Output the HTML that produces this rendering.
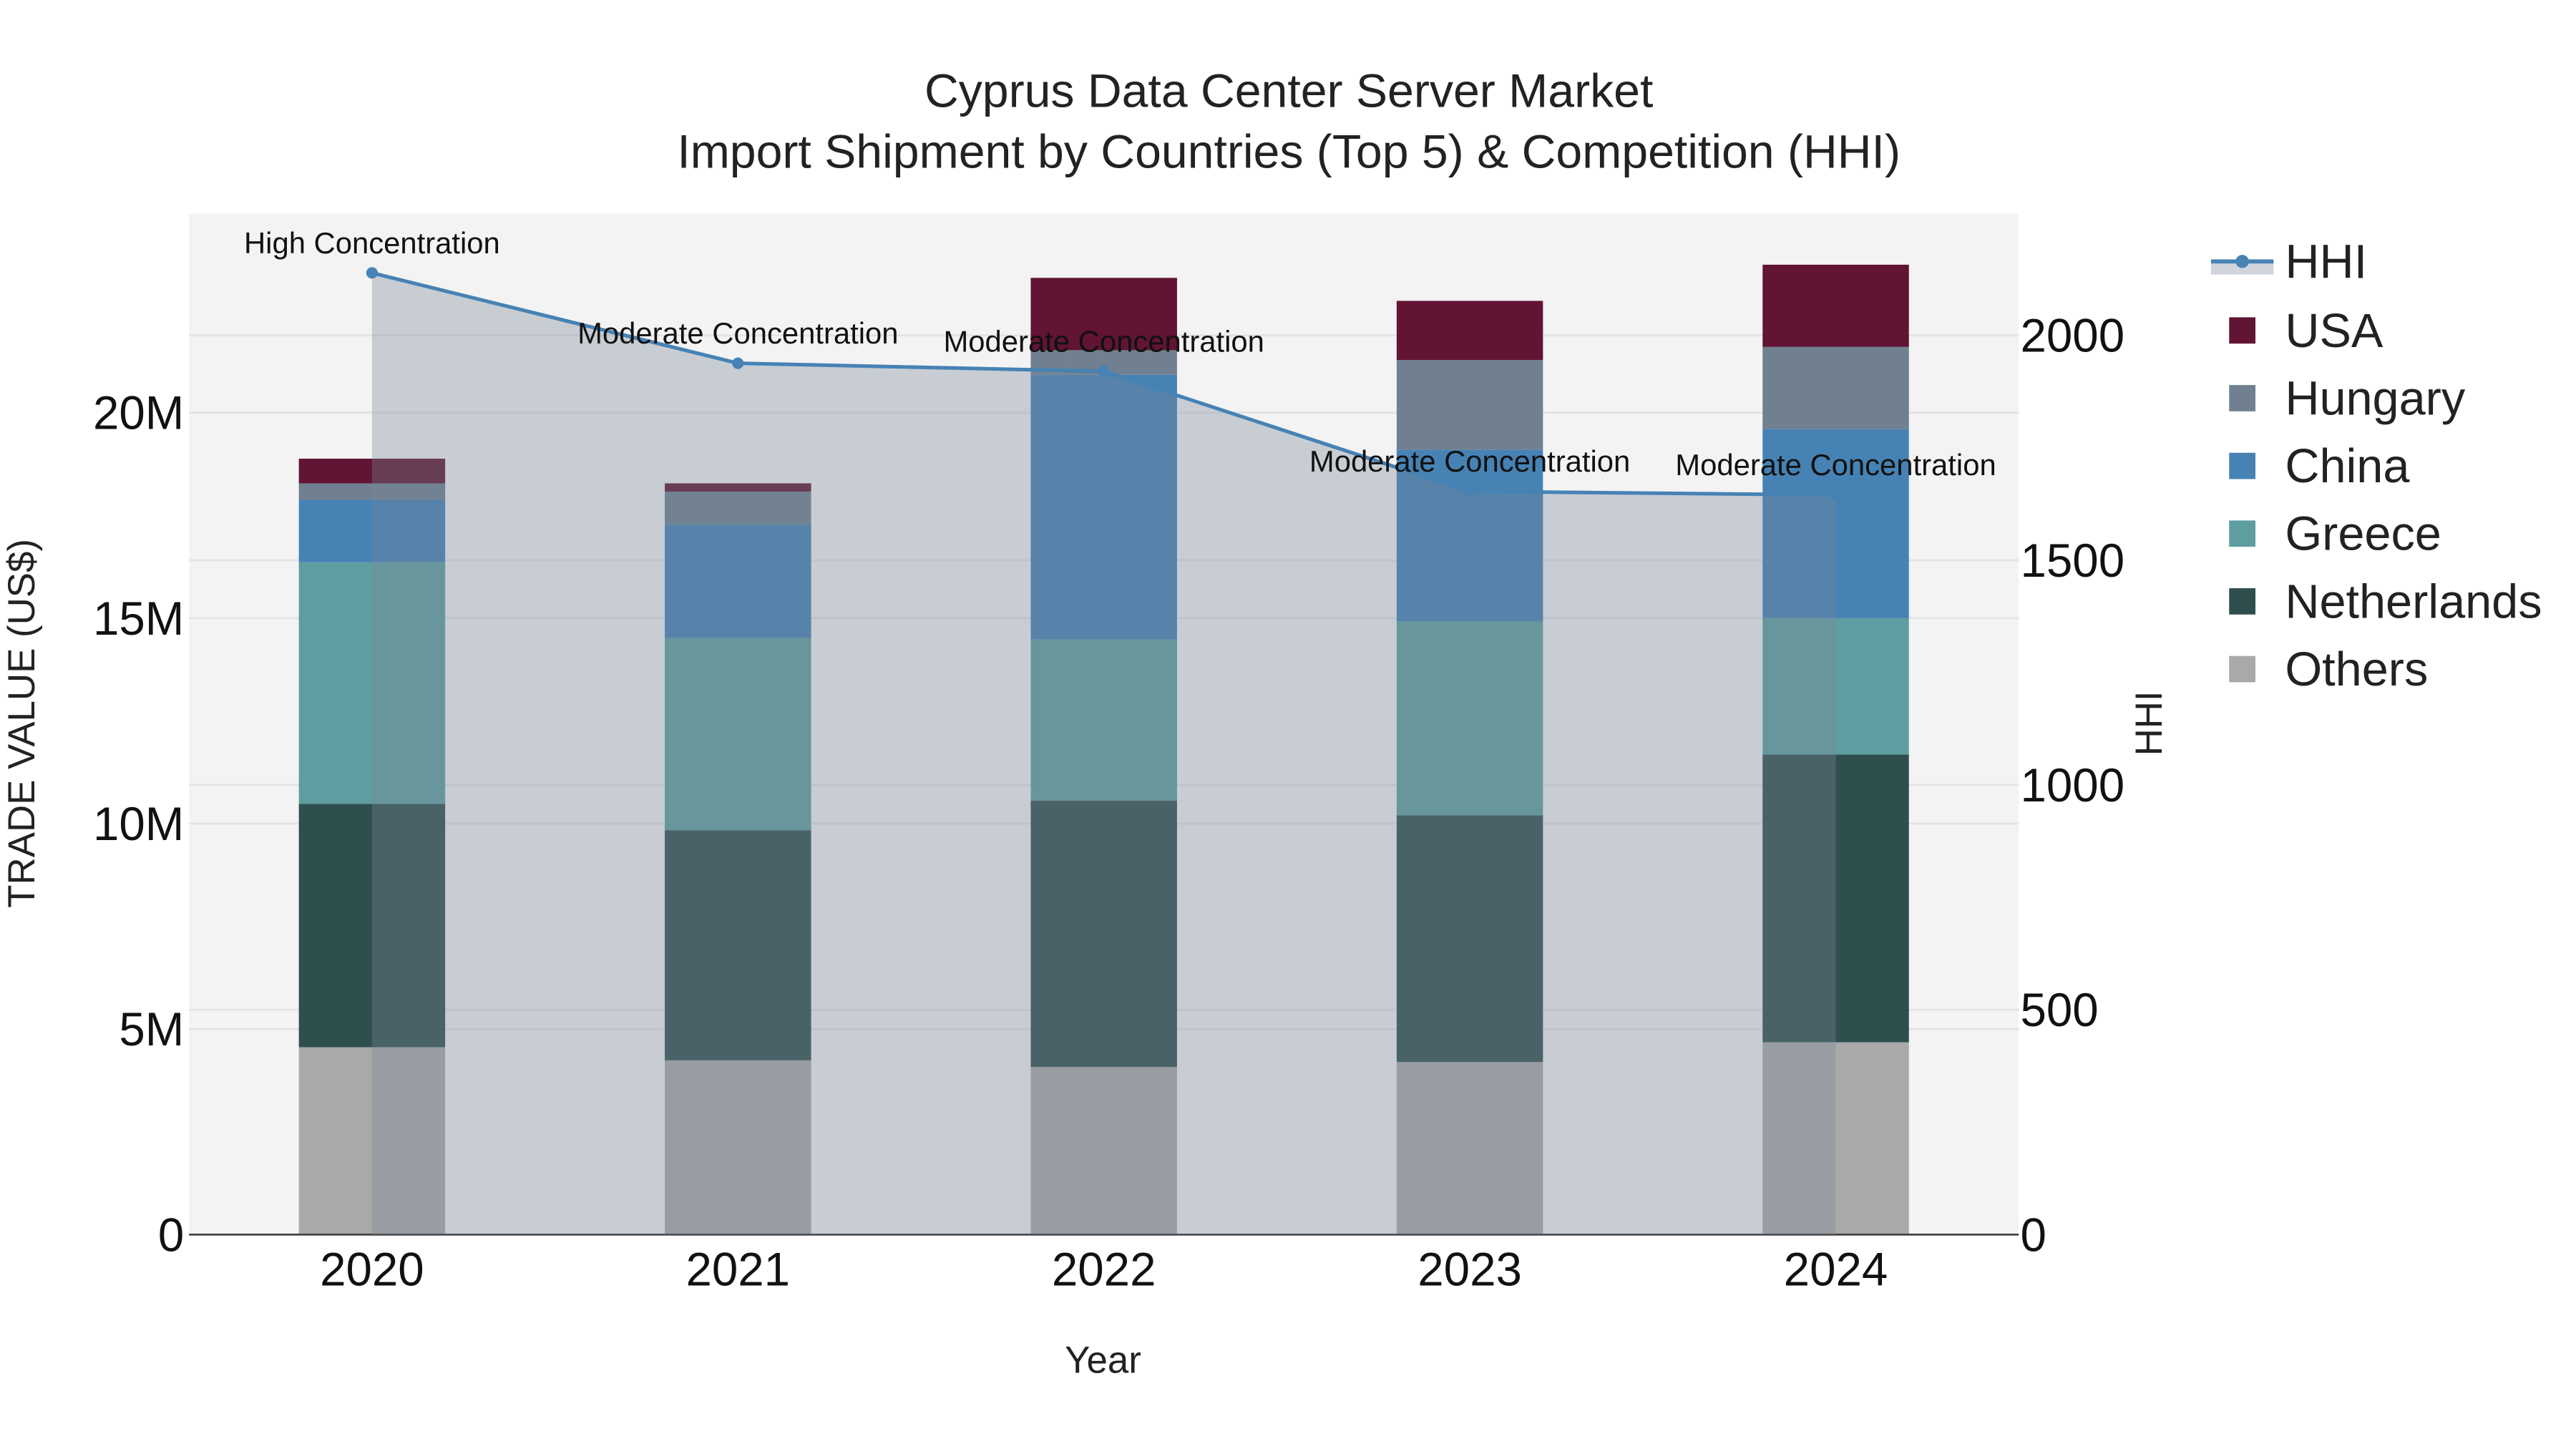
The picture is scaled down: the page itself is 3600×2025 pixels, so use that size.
<!DOCTYPE html>
<html><head><meta charset="utf-8"><style>html,body{margin:0;padding:0;background:#fff}svg{display:block}</style></head>
<body>
<svg id="chart" width="3600" height="2025" viewBox="0 0 1567 881.4" xmlns="http://www.w3.org/2000/svg" font-family="'Liberation Sans', sans-serif">
<rect x="0" y="0" width="1567" height="882" fill="#fff"/>
<g id="root"></g>
</svg>
<script>
const years = ["2020","2021","2022","2023","2024"];
const seriesNames = ["Others","Netherlands","Greece","China","Hungary","USA"];
const seriesColors = ["#a9a9a9","#2f4f4f","#5f9ea0","#4682b4","#708090","#611434"];
const others = [4.56,4.24,4.08,4.2,4.68];
const netherlands = [5.92,5.6,6.48,6.0,7.0];
const greece = [5.88,4.68,3.92,4.72,3.32];
const china = [1.52,2.76,6.44,4.18,4.6];
const hungary = [0.4,0.8,0.6,2.18,2.0];
const usa = [0.6,0.2,1.76,1.44,2.0];
const hhi = [2139,1938,1920,1653,1645];
const hhiLabels = ["High Concentration","Moderate Concentration","Moderate Concentration","Moderate Concentration","Moderate Concentration"];
const leftTicks = [0,5,10,15,20];
const leftTickLabels = ["0","5M","10M","15M","20M"];
const rightTicks = [0,500,1000,1500,2000];

const NS="http://www.w3.org/2000/svg";
const root=document.getElementById('root');
function mk(tag,attrs,parent){const e=document.createElementNS(NS,tag);for(const k in attrs)e.setAttribute(k,attrs[k]);(parent||root).appendChild(e);return e;}
const X0=115,X1=1228,Y0=751,YT=130;
const xs=i=>X0+(i+0.5)*(X1-X0)/years.length;
const yl=v=>Y0-v*25.0;
const yr=v=>Y0-v*0.2735;
const bw=89;

let el=mk('rect',{x:X0,y:YT,width:X1-X0,height:Y0-YT,fill:'#f3f3f3'});


leftTicks.forEach((t,i)=>{ if(t>0){
  el=mk('line',{x1:X0,x2:X1,y1:yl(t),y2:yl(t),stroke:'#e3e3e3','stroke-width':1.2});
  
  }
  el=mk('text',{x:X0-3,y:yl(t)+10,'text-anchor':'end','font-size':28.5,fill:'#111'});el.textContent=leftTickLabels[i];
  
  
});
rightTicks.forEach(t=>{ if(t>0){
  el=mk('line',{x1:X0,x2:X1,y1:yr(t),y2:yr(t),stroke:'#e3e3e3','stroke-width':1.2});
  
  }
  el=mk('text',{x:X1+1,y:yr(t)+10,'font-size':28.5,fill:'#111'});el.textContent=String(t);
  
  
});
const series=[others,netherlands,greece,china,hungary,usa];
years.forEach((y,i)=>{
  let cum=0;
  series.forEach((s,k)=>{
    el=mk('rect',{x:xs(i)-bw/2,y:yl(cum+s[i]),width:bw,height:yl(cum)-yl(cum+s[i]),fill:seriesColors[k]});
    
    
    cum+=s[i];
  });
  el=mk('text',{x:xs(i),y:Y0+31,'text-anchor':'middle','font-size':28.5,fill:'#111'});el.textContent=y;
  
  
});
el=mk('line',{x1:X0,x2:X1,y1:Y0,y2:Y0,stroke:'#444','stroke-width':1.2});


let pts=hhi.map((v,i)=>xs(i)+','+yr(v)).join(' ');
el=mk('polygon',{points:xs(0)+','+Y0+' '+pts+' '+xs(hhi.length-1)+','+Y0,fill:'rgba(119,136,153,0.35)'});


el=mk('polyline',{points:pts,fill:'none',stroke:'#4682b4','stroke-width':2.2});


hhi.forEach((v,i)=>{
  el=mk('circle',{cx:xs(i),cy:yr(v),r:3.5,fill:'#4682b4'});
  
  
  el=mk('text',{x:xs(i),y:yr(v)-12,'text-anchor':'middle','font-size':18.2,fill:'#111'});el.textContent=hhiLabels[i];
  
  
});
el=mk('text',{x:784,y:65,'text-anchor':'middle','font-size':28.8,fill:'#222'});el.textContent='Cyprus Data Center Server Market';


el=mk('text',{x:784,y:102,'text-anchor':'middle','font-size':28.8,fill:'#222'});el.textContent='Import Shipment by Countries (Top 5) & Competition (HHI)';


el=mk('text',{x:671,y:835,'text-anchor':'middle','font-size':23,fill:'#222'});el.textContent='Year';


el=mk('text',{x:21,y:440,'text-anchor':'middle','font-size':23,fill:'#222',transform:'rotate(-90 21 440)'});el.textContent='TRADE VALUE (US$)';


el=mk('text',{x:1315,y:440,'text-anchor':'middle','font-size':23,fill:'#222',transform:'rotate(-90 1315 440)'});el.textContent='HHI';


// legend
el=mk('rect',{x:1345,y:159,width:38,height:8,fill:'rgba(119,136,153,0.35)'});


el=mk('line',{x1:1345,x2:1383,y1:159,y2:159,stroke:'#4682b4','stroke-width':2.5});


el=mk('circle',{cx:1364,cy:159,r:4,fill:'#4682b4'});


el=mk('text',{x:1390,y:169,'font-size':29,fill:'#222'});el.textContent='HHI';


for(let k=5;k>=0;k--){
  const ly=201+(5-k)*41.2;
  el=mk('rect',{x:1356,y:ly-8,width:16,height:16,fill:seriesColors[k]});
  
  
  el=mk('text',{x:1390,y:ly+10,'font-size':29,fill:'#222'});el.textContent=seriesNames[k];
  
  
}
</script>
</body></html>
